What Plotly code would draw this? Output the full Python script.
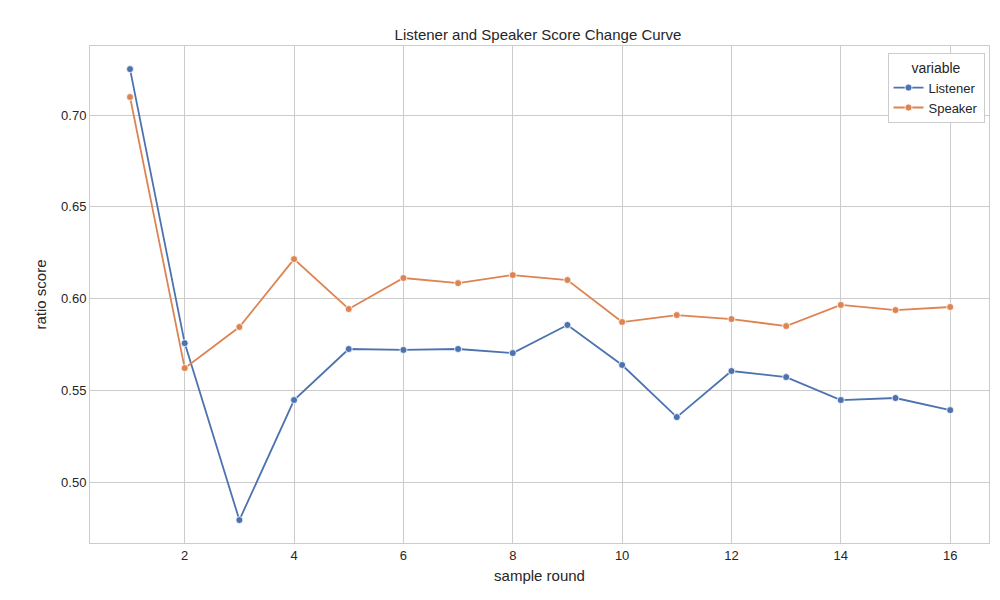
import plotly.graph_objects as go

rounds = list(range(1, 17))
listener = [0.725, 0.5757, 0.4793, 0.5447, 0.5725, 0.572, 0.5725, 0.5703,
            0.5856, 0.5638, 0.5354, 0.5605, 0.5572, 0.5447, 0.5458, 0.5392]
speaker = [0.7098, 0.5621, 0.5845, 0.6215, 0.5943, 0.6112, 0.6084, 0.6128,
           0.6101, 0.5872, 0.591, 0.5888, 0.585, 0.5965, 0.5937, 0.5954]

fig = go.Figure()
for name, vals, col in [("Listener", listener, "#4c72b0"), ("Speaker", speaker, "#dd8452")]:
    fig.add_trace(go.Scatter(x=rounds, y=vals, name=name, mode="lines+markers",
                             line=dict(color=col, width=1.8),
                             marker=dict(color=col, size=7, line=dict(color="white", width=0.8))))

axis = dict(showgrid=True, gridcolor="#cccccc", gridwidth=1, zeroline=False,
            showline=True, linecolor="#cccccc", mirror=True, ticks="",
            automargin=False, tickfont=dict(size=13, color="#262626"))
fig.update_layout(
    width=1000, height=600, plot_bgcolor="white", paper_bgcolor="white",
    margin=dict(l=82, r=19, t=38, b=65, autoexpand=False),
    font=dict(family="Liberation Sans, Arial", color="#262626"),
    title=dict(text="Listener and Speaker Score Change Curve", x=0.53, xanchor="center",
               y=0.965, automargin=False, font=dict(size=15)),
    xaxis=dict(axis, range=[0.268, 16.71], tickvals=list(range(2, 17, 2)),
               title=dict(text="sample round", font=dict(size=15), standoff=8)),
    yaxis=dict(axis, range=[0.4668, 0.7376], tickvals=[0.5, 0.55, 0.6, 0.65, 0.7],
               tickformat=".2f", title=dict(text="ratio score", font=dict(size=15), standoff=10)),
    legend=dict(x=0.995, y=0.985, xanchor="right", yanchor="top", bordercolor="#cccccc",
                borderwidth=1, bgcolor="white", font=dict(size=13),
                title=dict(text="variable", side="top center", font=dict(size=14))),
)
fig.write_html("out.html")
